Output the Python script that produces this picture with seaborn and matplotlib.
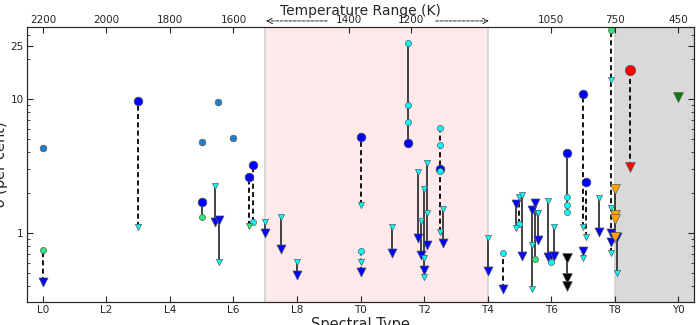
import matplotlib
matplotlib.use("Agg")
import matplotlib.pyplot as plt
import seaborn as sns
import pandas as pd

# -----------------------------
# Data (spectral type: L0=0, T0=10, Y0=20)
# -----------------------------
spt_ticks = [0, 2, 4, 6, 8, 10, 12, 14, 16, 18, 20]
spt_labels = ["L0", "L2", "L4", "L6", "L8", "T0", "T2", "T4", "T6", "T8", "Y0"]

temp_pos = [0, 2, 4, 6, 9.64, 11.6, 16, 18, 20]
temp_labels = ["2200", "2000", "1800", "1600", "1400", "1200", "1050", "750", "450"]

# vertical links between measurements of the same object
seg_spt = [0.0, 3.0, 5.0, 5.43, 5.53, 6.5, 6.6, 7.0, 7.5, 8.0, 10.0, 10.0, 11.0,
           11.5, 11.8, 11.9, 12.0, 12.1, 12.5, 12.6, 14.0, 14.5, 14.9, 15.0, 15.1,
           15.4, 15.5, 15.6, 15.9, 16.0, 16.1, 16.5, 16.5, 17.0, 17.0, 17.1, 17.5,
           17.9, 18.0, 18.08, 18.5]
seg_lo = [0.43, 1.11, 1.32, 1.21, 0.61, 1.13, 1.21, 1.0, 0.76, 0.49, 1.62, 0.51, 0.71,
          4.7, 0.92, 0.69, 0.47, 0.81, 1.02, 0.84, 0.52, 0.38, 1.09, 1.17, 0.67,
          0.38, 0.64, 0.89, 0.66, 0.61, 0.67, 1.43, 0.40, 1.11, 0.65, 0.93, 1.02,
          0.71, 0.93, 0.50, 3.1]
seg_hi = [0.75, 9.7, 1.70, 2.24, 1.25, 2.62, 3.22, 1.21, 1.32, 0.61, 5.2, 0.73, 1.11,
          26.1, 2.85, 1.23, 2.13, 3.33, 6.07, 1.51, 0.92, 0.71, 1.65, 1.86, 1.92,
          1.48, 1.67, 1.41, 1.73, 0.67, 1.11, 3.95, 0.65, 10.9, 0.73, 2.4, 1.83,
          32.9, 2.13, 0.93, 16.5]
seg_dashed = [True, True, False, False, False, True, True, False, False, False, True, True, False,
              False, False, False, False, False, True, False, False, True, False, True, False,
              False, False, False, False, False, False, False, False, True, False, True, False,
              True, False, False, True]

# markers
steel_spt = [0.0, 5.0, 5.5, 6.0]
steel_val = [4.31, 4.78, 9.5, 5.1]

blue_circ_spt = [3.0, 5.0, 6.5, 6.6, 10.0, 11.5, 12.5, 16.5, 17.0, 17.1]
blue_circ_val = [9.7, 1.70, 2.62, 3.22, 5.2, 4.7, 3.0, 3.95, 10.9, 2.4]

blue_tri_spt = [0.0, 5.43, 5.53, 7.0, 7.5, 8.0, 10.0, 11.0, 11.8, 11.9, 12.0, 12.1, 12.6,
                14.0, 14.5, 14.9, 15.1, 15.4, 15.5, 15.6, 15.9, 16.0, 16.1, 17.0, 17.5,
                17.9, 17.9, 18.08]
blue_tri_val = [0.43, 1.21, 1.25, 1.0, 0.76, 0.49, 0.51, 0.71, 0.92, 0.69, 0.53, 0.81, 0.84,
                0.52, 0.38, 1.65, 0.67, 1.48, 1.67, 0.89, 0.66, 0.67, 0.67, 0.73, 1.02,
                1.0, 0.86, 0.93]

cyan_tri_spt = [3.0, 5.43, 5.53, 7.0, 7.5, 8.0, 10.0, 10.0, 11.0, 11.8, 11.9, 12.0, 12.0,
                12.0, 12.1, 12.1, 12.5, 12.6, 14.0, 14.9, 15.0, 15.1, 15.4, 15.4, 15.55,
                15.6, 15.9, 16.1, 17.0, 17.0, 17.1, 17.5, 17.9, 17.9, 17.9, 18.08]
cyan_tri_val = [1.11, 2.24, 0.61, 1.21, 1.32, 0.61, 1.62, 0.61, 1.11, 2.85, 1.23, 2.13, 0.65,
                0.47, 3.33, 1.41, 1.02, 1.51, 0.92, 1.09, 1.86, 1.92, 0.81, 0.38, 1.41,
                1.41, 1.73, 1.11, 1.11, 0.65, 0.93, 1.83, 13.9, 1.54, 0.71, 0.50]

cyan_circ_spt = [6.6, 10.0, 11.5, 11.5, 11.5, 12.5, 12.5, 12.5, 14.5, 15.0, 16.0, 16.5, 16.5, 16.5]
cyan_circ_val = [1.21, 0.73, 26.1, 9.0, 6.7, 6.07, 4.54, 2.9, 0.71, 1.17, 0.61, 1.86, 1.62, 1.43]

green_circ_spt = [0.0, 5.0, 15.5, 17.9]
green_circ_val = [0.75, 1.32, 0.64, 32.9]

green_tri_spt = [6.5]
green_tri_val = [1.13]

orange_tri_spt = [18.0, 18.0, 18.0, 18.0]
orange_tri_val = [2.13, 1.36, 1.27, 0.93]

black_tri_spt = [16.5, 16.5, 16.5]
black_tri_val = [0.65, 0.46, 0.40]

red_circ_spt = [18.5]
red_circ_val = [16.5]
red_tri_spt = [18.5]
red_tri_val = [3.1]

dkgreen_tri_spt = [20.0]
dkgreen_tri_val = [10.3]


def main():
    sns.set_style("ticks")
    plt.rcParams["font.family"] = ["DejaVu Sans"]
    plt.rcParams["xtick.direction"] = "in"
    plt.rcParams["ytick.direction"] = "in"

    fig = plt.figure(figsize=(6.99, 3.25), dpi=100)
    ax = fig.add_axes([27 / 699, 23 / 325, 667 / 699, 275 / 325])

    # shaded temperature regions
    ax.axvspan(7, 14, color="#ffe9ea", lw=0, zorder=0)
    ax.axvspan(18, 20.5, color="#d9d9d9", lw=0, zorder=0)
    for xv in (7, 14, 18):
        ax.axvline(xv, color="0.82", lw=1.2, zorder=0.5)

    # links between measurements
    segs = pd.DataFrame({"spt": seg_spt, "lo": seg_lo, "hi": seg_hi, "dashed": seg_dashed})
    solid = segs[~segs["dashed"]]
    dashed = segs[segs["dashed"]]
    ax.vlines(solid["spt"], solid["lo"], solid["hi"], colors="#333333", lw=1.3, zorder=1)
    ax.vlines(dashed["spt"], dashed["lo"], dashed["hi"], colors="black", lw=1.3,
              linestyles=[(0, (2.8, 1.8))], zorder=1)

    # markers, drawn in layers
    groups = [
        (steel_spt, steel_val, "o", "#1f7fc8", 4.8),
        (blue_circ_spt, blue_circ_val, "o", "blue", 6.3),
        (blue_tri_spt, blue_tri_val, "v", "blue", 6.5),
        (orange_tri_spt, orange_tri_val, "v", "orange", 7.0),
        (black_tri_spt, black_tri_val, "v", "black", 7.0),
        (cyan_circ_spt, cyan_circ_val, "o", "cyan", 4.4),
        (cyan_tri_spt, cyan_tri_val, "v", "cyan", 4.4),
        (green_circ_spt, green_circ_val, "o", "#2ee87a", 4.4),
        (green_tri_spt, green_tri_val, "v", "#2ee87a", 4.4),
        (red_circ_spt, red_circ_val, "o", "red", 7.5),
        (red_tri_spt, red_tri_val, "v", "red", 7.0),
        (dkgreen_tri_spt, dkgreen_tri_val, "v", "green", 7.0),
    ]
    for i, (xs, ys, mk, col, ms) in enumerate(groups):
        sns.scatterplot(x=xs, y=ys, marker=mk, color=col, s=ms ** 2,
                        edgecolor="0.35", linewidth=0.5, ax=ax, zorder=2 + i * 0.1)

    ax.set_yscale("log")
    ax.set_xlim(-0.5, 20.5)
    ax.set_ylim(0.306, 34.5)
    ax.set_yticks([1, 10, 25])
    ax.set_yticklabels(["1", "10", "25"])
    ax.set_xticks(spt_ticks)
    ax.set_xticklabels(spt_labels)
    ax.tick_params(axis="both", which="both", labelsize=7.5, pad=2.5, right=True, top=False)
    ax.tick_params(axis="both", which="major", length=4)
    ax.tick_params(axis="both", which="minor", length=2)
    ax.set_xlabel("Spectral Type", fontsize=10.5, labelpad=1)
    ax.set_ylabel(r"$\sigma$ (per cent)", fontsize=10.5, labelpad=0)

    # top axis: temperature
    ax2 = ax.twiny()
    ax2.set_xlim(ax.get_xlim())
    ax2.set_xticks(temp_pos)
    ax2.set_xticklabels(temp_labels)
    ax2.tick_params(axis="x", labelsize=7.5, pad=1.2, length=4, direction="in")
    ax2.set_xlabel("Temperature Range (K)", fontsize=10, labelpad=0.5)

    # dashed arrows around the T-dwarf range
    arrow = dict(arrowstyle="->", linestyle="--", lw=0.6, color="black")
    ax.annotate("", xy=(6.94, 1.022), xytext=(9.04, 1.022),
                xycoords=("data", "axes fraction"), textcoords=("data", "axes fraction"),
                arrowprops=arrow, annotation_clip=False)
    ax.annotate("", xy=(14.13, 1.022), xytext=(12.28, 1.022),
                xycoords=("data", "axes fraction"), textcoords=("data", "axes fraction"),
                arrowprops=arrow, annotation_clip=False)

    fig.savefig("out.png", dpi=100)


if __name__ == "__main__":
    main()
